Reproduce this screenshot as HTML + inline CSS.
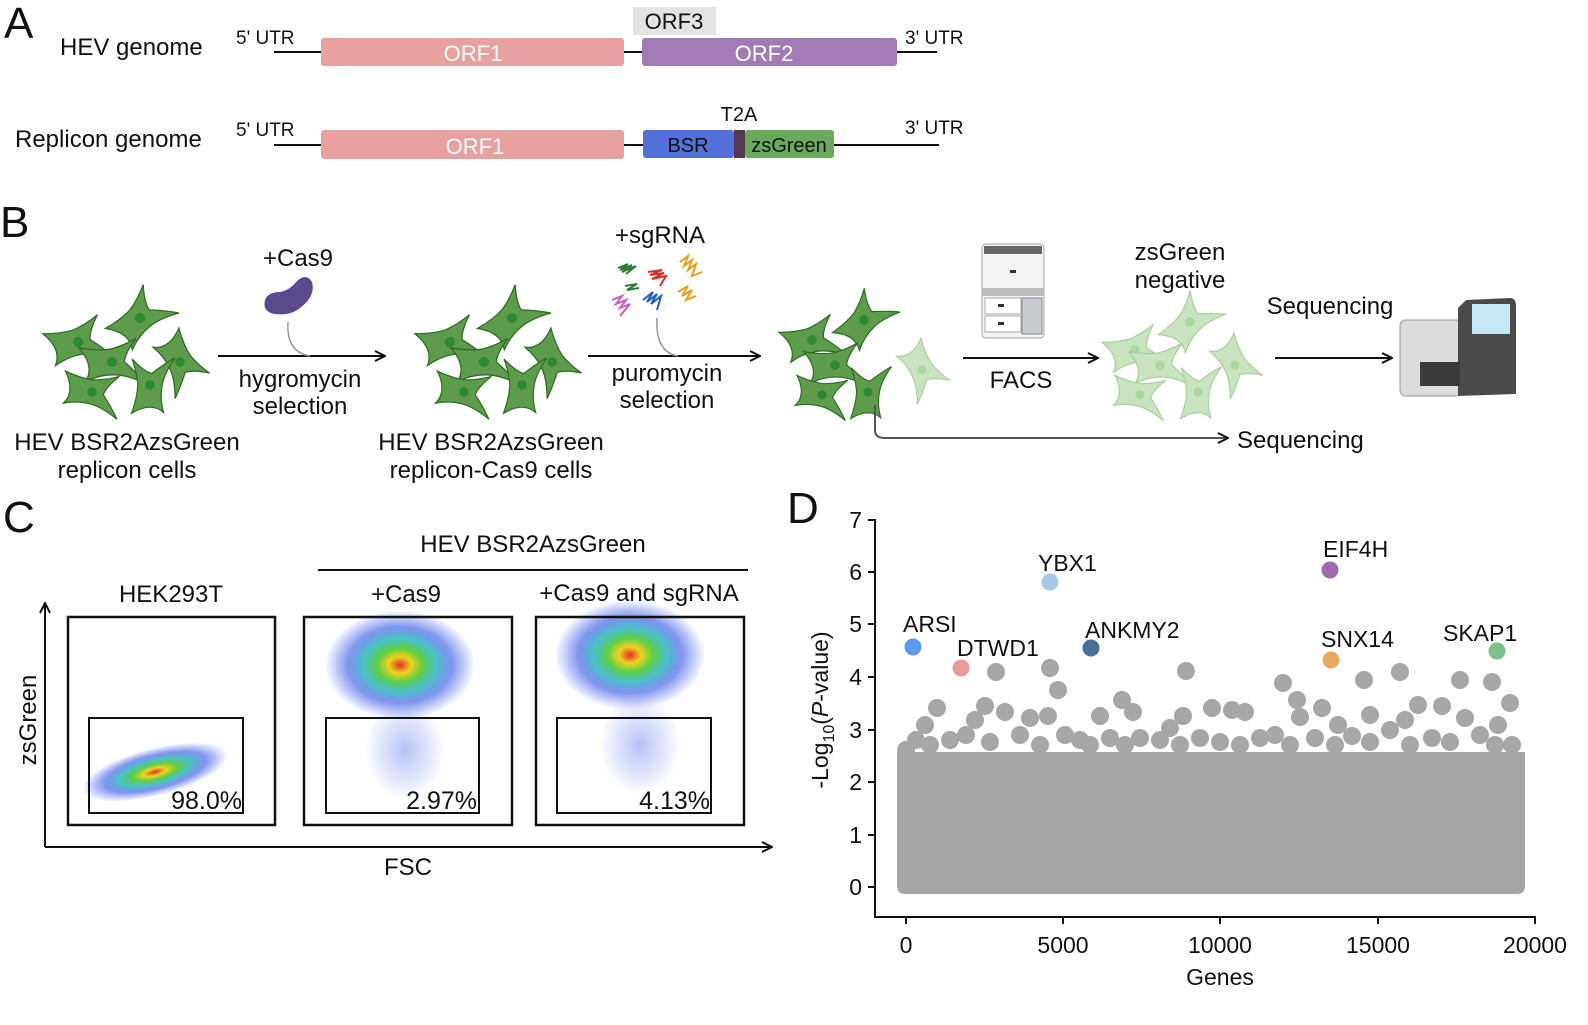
<!DOCTYPE html>
<html><head><meta charset="utf-8"><style>
html,body{margin:0;padding:0;background:#fff}
svg{display:block}
text{font-family:"Liberation Sans",Arial,sans-serif;fill:#111}
</style></head><body>
<svg width="1588" height="1025" viewBox="0 0 1588 1025" xmlns="http://www.w3.org/2000/svg">
<defs>
<symbol id="cell" overflow="visible">
<path d="M-42,-6 Q-20,-8 -6,-14 Q8,-22 20,-34 Q12,-14 14,-4 Q30,4 44,14 Q20,10 6,14 Q-10,18 -24,30 Q-18,10 -42,-6 Z" fill="#5d9c4a" stroke="#2f6b24" stroke-width="1.5"/>
<circle cx="0" cy="0" r="6" fill="#2e8a2e"/>
</symbol>
<symbol id="cellL" overflow="visible">
<path d="M-42,-6 Q-20,-8 -6,-14 Q8,-22 20,-34 Q12,-14 14,-4 Q30,4 44,14 Q20,10 6,14 Q-10,18 -24,30 Q-18,10 -42,-6 Z" fill="#c9e2c0" stroke="#a9cf9d" stroke-width="1.5"/>
<circle cx="0" cy="0" r="6" fill="#add6a2"/>
</symbol>
<marker id="ah" viewBox="0 0 12 12" refX="11" refY="6" markerWidth="12" markerHeight="12" markerUnits="userSpaceOnUse" orient="auto"><path d="M1,1 L11,6 L1,11" fill="none" stroke="#111" stroke-width="2"/></marker>
<radialGradient id="fc" cx="50%" cy="50%" r="50%">
<stop offset="0" stop-color="#e03020"/><stop offset="0.15" stop-color="#f0d020"/><stop offset="0.3" stop-color="#60d040"/><stop offset="0.5" stop-color="#20b0c0" stop-opacity="0.8"/><stop offset="0.7" stop-color="#2040e0" stop-opacity="0.55"/><stop offset="1" stop-color="#2040f0" stop-opacity="0"/>
</radialGradient>
<radialGradient id="fb" cx="50%" cy="50%" r="50%">
<stop offset="0" stop-color="#3050e0" stop-opacity="0.35"/><stop offset="1" stop-color="#3050e0" stop-opacity="0"/>
</radialGradient>
</defs>

<!-- Panel A -->
<text x="4" y="38" font-size="44">A</text>
<text x="60" y="55" font-size="24">HEV genome</text>
<text x="236" y="44" font-size="19">5' UTR</text>
<line x1="274" y1="52" x2="937" y2="52" stroke="#111" stroke-width="2"/>
<rect x="321" y="38" width="303" height="28" rx="3" fill="#e8a0a0"/>
<text x="473" y="61" font-size="22" text-anchor="middle" style="fill:#fff">ORF1</text>
<rect x="642" y="38" width="255" height="28" rx="3" fill="#a07bb5"/>
<text x="764" y="61" font-size="22" text-anchor="middle" style="fill:#fff">ORF2</text>
<rect x="633" y="7" width="83" height="28" fill="#e3e3e3"/>
<text x="674" y="29" font-size="22" text-anchor="middle">ORF3</text>
<text x="905" y="44" font-size="19">3' UTR</text>

<text x="15" y="147" font-size="24">Replicon genome</text>
<text x="236" y="136" font-size="19">5' UTR</text>
<line x1="274" y1="145" x2="939" y2="145" stroke="#111" stroke-width="2"/>
<rect x="321" y="130" width="303" height="29" rx="3" fill="#e8a0a0"/>
<text x="475" y="154" font-size="22" text-anchor="middle" style="fill:#fff">ORF1</text>
<rect x="643" y="130" width="91" height="28" rx="3" fill="#5570d8"/>
<text x="688" y="152" font-size="20" text-anchor="middle">BSR</text>
<rect x="734" y="130" width="11" height="28" fill="#553a4f"/>
<rect x="745" y="130" width="89" height="28" rx="3" fill="#6aaa5a"/>
<text x="789" y="152" font-size="20" text-anchor="middle">zsGreen</text>
<text x="739" y="121" font-size="20" text-anchor="middle">T2A</text>
<text x="905" y="134" font-size="19">3' UTR</text>

<!-- Panel B -->
<text x="0" y="237" font-size="44">B</text>
<g>
<use href="#cell" transform="translate(78,342) rotate(5) scale(0.85)"/>
<use href="#cell" transform="translate(140,318) rotate(-25) scale(0.85)"/>
<use href="#cell" transform="translate(112,362) rotate(15) scale(0.85)"/>
<use href="#cell" transform="translate(180,362) rotate(80) scale(0.8)"/>
<use href="#cell" transform="translate(92,392) rotate(30) scale(0.8)"/>
<use href="#cell" transform="translate(150,385) rotate(-65) scale(0.8)"/>
</g>
<g>
<use href="#cell" transform="translate(450,342) rotate(5) scale(0.85)"/>
<use href="#cell" transform="translate(512,318) rotate(-25) scale(0.85)"/>
<use href="#cell" transform="translate(484,362) rotate(15) scale(0.85)"/>
<use href="#cell" transform="translate(552,362) rotate(80) scale(0.8)"/>
<use href="#cell" transform="translate(464,392) rotate(30) scale(0.8)"/>
<use href="#cell" transform="translate(522,385) rotate(-65) scale(0.8)"/>
</g>
<g>
<use href="#cell" transform="translate(812,340) rotate(5) scale(0.8)"/>
<use href="#cell" transform="translate(864,320) rotate(-30) scale(0.8)"/>
<use href="#cell" transform="translate(835,365) rotate(15) scale(0.8)"/>
<use href="#cell" transform="translate(822,395) rotate(30) scale(0.75)"/>
<use href="#cell" transform="translate(868,392) rotate(-65) scale(0.75)"/>
<use href="#cellL" transform="translate(922,370) rotate(80) scale(0.75)"/>
</g>
<g>
<use href="#cellL" transform="translate(1135,350) rotate(5) scale(0.8)"/>
<use href="#cellL" transform="translate(1190,322) rotate(-30) scale(0.8)"/>
<use href="#cellL" transform="translate(1160,365) rotate(15) scale(0.8)"/>
<use href="#cellL" transform="translate(1235,365) rotate(80) scale(0.75)"/>
<use href="#cellL" transform="translate(1140,395) rotate(30) scale(0.75)"/>
<use href="#cellL" transform="translate(1198,392) rotate(-65) scale(0.75)"/>
</g>

<line x1="218" y1="356" x2="385" y2="356" stroke="#111" stroke-width="2" marker-end="url(#ah)"/>
<path d="M265,300 Q262,312 275,314 Q290,316 300,308 Q316,296 312,282 Q306,272 296,282 Q290,290 280,292 Q268,292 265,300 Z" fill="#5c4a8f"/>
<path d="M288,322 Q286,352 310,356" fill="none" stroke="#999" stroke-width="1.5"/>
<text x="298" y="266" font-size="24" text-anchor="middle">+Cas9</text>
<text x="300" y="387" font-size="24" text-anchor="middle">hygromycin</text>
<text x="300" y="414" font-size="24" text-anchor="middle">selection</text>

<line x1="588" y1="356" x2="760" y2="356" stroke="#111" stroke-width="2" marker-end="url(#ah)"/>
<text x="660" y="243" font-size="24" text-anchor="middle">+sgRNA</text>
<g fill="none" stroke-width="2">
<path d="M618,268 l10,-4 l-8,6 l12,-5 l-10,7 l14,-6 l-10,8" stroke="#2e7a3a"/>
<path d="M648,272 l14,-2 l-12,5 l14,-2 l-12,6 l14,-3 l-6,10" stroke="#d43030"/>
<path d="M680,262 l8,-6 l-4,10 l8,-6 l-4,10 l8,-6 l-4,12 l10,-4" stroke="#e8a020"/>
<path d="M612,300 l10,-4 l-6,8 l10,-4 l-6,8 l10,-4 l-10,12" stroke="#c060c0"/>
<path d="M643,300 l10,-8 l-6,10 l10,-8 l-6,10 l10,-8 l-4,14" stroke="#2060c0"/>
<path d="M678,292 l10,-6 l-6,10 l10,-6 l-6,10 l10,-4" stroke="#e8a020"/>
<path d="M625,286 l12,-2 l-10,6 l12,-2" stroke="#2e7a3a"/>
</g>
<path d="M657,318 Q655,352 678,356" fill="none" stroke="#999" stroke-width="1.5"/>
<text x="667" y="381" font-size="24" text-anchor="middle">puromycin</text>
<text x="667" y="408" font-size="24" text-anchor="middle">selection</text>

<!-- FACS machine -->
<g>
<rect x="982" y="244" width="62" height="94" rx="4" fill="#f3f3f3" stroke="#aaa"/>
<rect x="984" y="246" width="58" height="8" fill="#666"/>
<rect x="982" y="288" width="62" height="8" fill="#bbb"/>
<rect x="985" y="298" width="36" height="16" fill="#fff" stroke="#aaa"/>
<rect x="985" y="316" width="36" height="16" fill="#fff" stroke="#aaa"/>
<rect x="1022" y="298" width="20" height="36" fill="#c8ccd0" stroke="#888"/>
<rect x="1010" y="270" width="6" height="3" fill="#333"/>
<rect x="998" y="304" width="6" height="3" fill="#333"/>
<rect x="998" y="322" width="6" height="3" fill="#333"/>
</g>
<line x1="963" y1="358" x2="1098" y2="358" stroke="#111" stroke-width="2" marker-end="url(#ah)"/>
<text x="1021" y="388" font-size="24" text-anchor="middle">FACS</text>
<text x="1180" y="260" font-size="24" text-anchor="middle">zsGreen</text>
<text x="1180" y="288" font-size="24" text-anchor="middle">negative</text>

<line x1="1275" y1="358" x2="1392" y2="358" stroke="#111" stroke-width="2" marker-end="url(#ah)"/>
<text x="1330" y="314" font-size="24" text-anchor="middle">Sequencing</text>
<g>
<rect x="1400" y="320" width="62" height="76" rx="6" fill="#dcdcdc" stroke="#999"/>
<path d="M1458,308 L1466,300 L1510,298 Q1516,298 1516,306 L1516,394 L1458,396 Z" fill="#4a4a4a"/>
<rect x="1472" y="304" width="38" height="30" fill="#c5e6f2"/>
<rect x="1420" y="362" width="40" height="24" fill="#3a3a3a"/>
</g>

<path d="M875,405 L875,430 Q875,438 885,438 L1228,438" fill="none" stroke="#555" stroke-width="2" marker-end="url(#ah)"/>
<text x="1237" y="448" font-size="24">Sequencing</text>

<text x="127" y="450" font-size="24" text-anchor="middle">HEV BSR2AzsGreen</text>
<text x="127" y="478" font-size="24" text-anchor="middle">replicon cells</text>
<text x="491" y="450" font-size="24" text-anchor="middle">HEV BSR2AzsGreen</text>
<text x="491" y="478" font-size="24" text-anchor="middle">replicon-Cas9 cells</text>

<!-- Panel C -->
<text x="3" y="532" font-size="44">C</text>
<text x="533" y="552" font-size="24" text-anchor="middle">HEV BSR2AzsGreen</text>
<line x1="318" y1="570" x2="748" y2="570" stroke="#111" stroke-width="2"/>
<text x="171" y="602" font-size="24" text-anchor="middle">HEK293T</text>
<text x="406" y="602" font-size="24" text-anchor="middle">+Cas9</text>
<text x="639" y="601" font-size="24" text-anchor="middle">+Cas9 and sgRNA</text>
<line x1="45" y1="847" x2="45" y2="603" stroke="#111" stroke-width="2" marker-end="url(#ah)"/>
<line x1="45" y1="847" x2="772" y2="847" stroke="#111" stroke-width="2" marker-end="url(#ah)"/>
<text transform="translate(36,720) rotate(-90)" font-size="24" text-anchor="middle">zsGreen</text>
<text x="408" y="875" font-size="24" text-anchor="middle">FSC</text>

<ellipse cx="155" cy="772" rx="75" ry="24" fill="url(#fc)" transform="rotate(-14 155 772)"/>
<ellipse cx="400" cy="665" rx="75" ry="55" fill="url(#fc)"/>
<ellipse cx="405" cy="750" rx="40" ry="50" fill="url(#fb)"/>
<ellipse cx="630" cy="655" rx="75" ry="55" fill="url(#fc)"/>
<ellipse cx="640" cy="745" rx="40" ry="50" fill="url(#fb)"/>

<g fill="none" stroke="#111" stroke-width="2.5">
<rect x="68" y="617" width="207" height="208"/>
<rect x="304" y="617" width="208" height="208"/>
<rect x="536" y="617" width="208" height="208"/>
</g>
<g fill="none" stroke="#111" stroke-width="2">
<rect x="89" y="718" width="154" height="95"/>
<rect x="326" y="718" width="153" height="95"/>
<rect x="557" y="718" width="154" height="95"/>
</g>
<text x="242" y="809" font-size="25" text-anchor="end">98.0%</text>
<text x="477" y="809" font-size="25" text-anchor="end">2.97%</text>
<text x="710" y="809" font-size="25" text-anchor="end">4.13%</text>

<!-- Panel D -->
<text x="787" y="523" font-size="44">D</text>
<g fill="#a6a6a6">
<path d="M897,752 L897,886 Q897,894 905,894 L1517,894 Q1525,894 1525,886 L1525,752 Z"/>
<circle cx="906" cy="750" r="9"/><circle cx="916" cy="740" r="9"/><circle cx="925" cy="725" r="9"/><circle cx="937" cy="708" r="9"/>
<circle cx="950" cy="740" r="9"/><circle cx="966" cy="735" r="9"/><circle cx="975" cy="720" r="9"/><circle cx="985" cy="706" r="9"/>
<circle cx="996" cy="672" r="9"/><circle cx="1005" cy="712" r="9"/><circle cx="1020" cy="735" r="9"/><circle cx="1030" cy="718" r="9"/>
<circle cx="1048" cy="716" r="9"/><circle cx="1050" cy="668" r="9"/><circle cx="1058" cy="690" r="9"/><circle cx="1065" cy="735" r="9"/>
<circle cx="1080" cy="740" r="9"/><circle cx="1100" cy="716" r="9"/><circle cx="1110" cy="738" r="9"/><circle cx="1122" cy="700" r="9"/>
<circle cx="1133" cy="712" r="9"/><circle cx="1140" cy="738" r="9"/><circle cx="1160" cy="740" r="9"/><circle cx="1170" cy="728" r="9"/>
<circle cx="1183" cy="716" r="9"/><circle cx="1186" cy="671" r="9"/><circle cx="1200" cy="738" r="9"/><circle cx="1212" cy="708" r="9"/>
<circle cx="1232" cy="710" r="9"/><circle cx="1245" cy="712" r="9"/><circle cx="1260" cy="738" r="9"/><circle cx="1275" cy="735" r="9"/>
<circle cx="1283" cy="683" r="9"/><circle cx="1297" cy="700" r="9"/><circle cx="1300" cy="717" r="9"/><circle cx="1315" cy="738" r="9"/>
<circle cx="1322" cy="708" r="9"/><circle cx="1338" cy="725" r="9"/><circle cx="1352" cy="736" r="9"/><circle cx="1364" cy="680" r="9"/>
<circle cx="1370" cy="715" r="9"/><circle cx="1390" cy="730" r="9"/><circle cx="1400" cy="672" r="9"/><circle cx="1405" cy="720" r="9"/>
<circle cx="1418" cy="705" r="9"/><circle cx="1432" cy="738" r="9"/><circle cx="1442" cy="706" r="9"/><circle cx="1460" cy="680" r="9"/>
<circle cx="1465" cy="718" r="9"/><circle cx="1480" cy="735" r="9"/><circle cx="1492" cy="682" r="9"/><circle cx="1498" cy="725" r="9"/>
<circle cx="1510" cy="703" r="9"/><circle cx="1512" cy="745" r="9"/>
<circle cx="930" cy="745" r="9"/><circle cx="990" cy="742" r="9"/><circle cx="1040" cy="745" r="9"/><circle cx="1090" cy="745" r="9"/>
<circle cx="1125" cy="745" r="9"/><circle cx="1180" cy="745" r="9"/><circle cx="1220" cy="742" r="9"/><circle cx="1240" cy="745" r="9"/>
<circle cx="1290" cy="745" r="9"/><circle cx="1335" cy="745" r="9"/><circle cx="1370" cy="742" r="9"/><circle cx="1410" cy="745" r="9"/>
<circle cx="1450" cy="742" r="9"/><circle cx="1495" cy="745" r="9"/>
</g>
<circle cx="913" cy="647" r="8.5" fill="#5b9bf0"/>
<circle cx="961" cy="668" r="8.5" fill="#e89a9a"/>
<circle cx="1050" cy="582" r="8.5" fill="#a8c8e8"/>
<circle cx="1091" cy="648" r="8.5" fill="#4a6f9a"/>
<circle cx="1330" cy="570" r="8.5" fill="#9c6bb0"/>
<circle cx="1331" cy="660" r="8.5" fill="#e8a860"/>
<circle cx="1497" cy="651" r="8.5" fill="#7cc08a"/>
<g font-size="23">
<text x="903" y="632">ARSI</text>
<text x="957" y="656">DTWD1</text>
<text x="1038" y="571">YBX1</text>
<text x="1085" y="638">ANKMY2</text>
<text x="1323" y="557">EIF4H</text>
<text x="1321" y="647">SNX14</text>
<text x="1443" y="641">SKAP1</text>
</g>
<g stroke="#111" stroke-width="2">
<line x1="875" y1="519" x2="875" y2="917"/>
<line x1="874" y1="917" x2="1536" y2="917"/>
<line x1="868" y1="520" x2="875" y2="520"/><line x1="868" y1="572" x2="875" y2="572"/>
<line x1="868" y1="624" x2="875" y2="624"/><line x1="868" y1="677" x2="875" y2="677"/>
<line x1="868" y1="730" x2="875" y2="730"/><line x1="868" y1="782" x2="875" y2="782"/>
<line x1="868" y1="835" x2="875" y2="835"/><line x1="868" y1="887" x2="875" y2="887"/>
<line x1="906" y1="917" x2="906" y2="924"/><line x1="1063" y1="917" x2="1063" y2="924"/>
<line x1="1220" y1="917" x2="1220" y2="924"/><line x1="1378" y1="917" x2="1378" y2="924"/>
<line x1="1535" y1="917" x2="1535" y2="924"/>
</g>
<g font-size="23" text-anchor="end">
<text x="862" y="528">7</text><text x="862" y="580">6</text><text x="862" y="632">5</text><text x="862" y="685">4</text>
<text x="862" y="738">3</text><text x="862" y="790">2</text><text x="862" y="843">1</text><text x="862" y="895">0</text>
</g>
<g font-size="23" text-anchor="middle">
<text x="906" y="953">0</text><text x="1063" y="953">5000</text><text x="1220" y="953">10000</text>
<text x="1378" y="953">15000</text><text x="1535" y="953">20000</text>
<text x="1220" y="985">Genes</text>
</g>
<text transform="translate(828,710) rotate(-90)" font-size="23" text-anchor="middle">-Log<tspan font-size="16" dy="6">10</tspan><tspan dy="-6">(</tspan><tspan font-style="italic">P</tspan>-value)</text>
</svg>
</body></html>
